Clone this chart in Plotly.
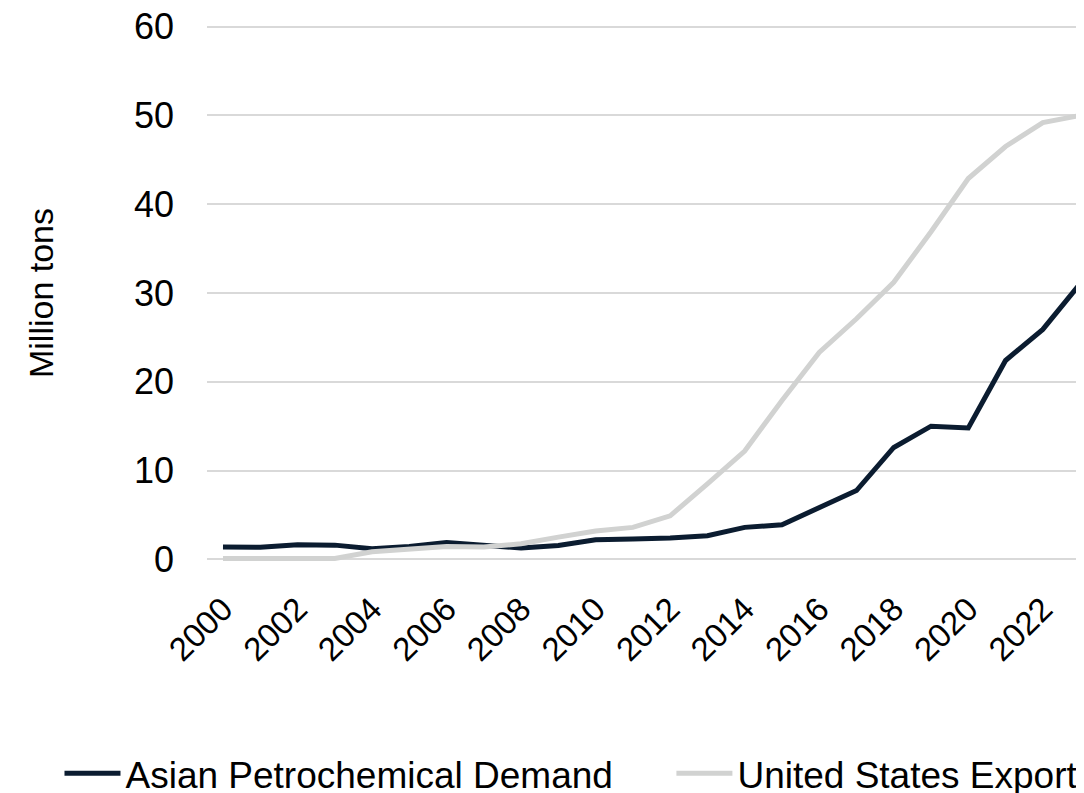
import plotly.graph_objects as go

# years on the x axis
years = list(range(2000, 2024))

# values (million tons)
asian_demand = [1.4, 1.35, 1.65, 1.6, 1.2, 1.45, 1.9, 1.55, 1.28, 1.55,
                2.2, 2.3, 2.4, 2.65, 3.6, 3.9, 5.9, 7.75, 12.6, 15.0,
                14.8, 22.4, 25.9, 31.05]
us_exports = [0.1, 0.1, 0.1, 0.1, 0.85, 1.1, 1.45, 1.4, 1.75, 2.5,
              3.2, 3.6, 4.9, 8.5, 12.2, 17.9, 23.3, 27.1, 31.2, 36.9,
              42.9, 46.5, 49.2, 50.0]

y_ticks = [0, 10, 20, 30, 40, 50, 60]
x_ticks = list(range(2000, 2023, 2))

FONT = "Liberation Sans, Arial, sans-serif"

fig = go.Figure()
fig.add_trace(go.Scatter(x=years, y=asian_demand, mode="lines",
                         name="Asian Petrochemical Demand",
                         line=dict(color="#0b1c30", width=5),
                         legend="legend"))
fig.add_trace(go.Scatter(x=years, y=us_exports, mode="lines",
                         name="United States Exports",
                         line=dict(color="#d1d2d1", width=5),
                         legend="legend2"))

# one legend per series so both sit on one row like the original
leg = dict(orientation="h", xref="container", yref="container",
           xanchor="left", yanchor="middle", font=dict(size=37),
           itemwidth=56, bgcolor="rgba(0,0,0,0)")

# the page body adds 8px, margins are set so the plot lands where it should
# y range padded a little so the 0 and 60 gridlines are still drawn
fig.update_layout(
    width=1084, height=793,
    margin=dict(l=199, r=0, t=16.3, b=239.3),
    paper_bgcolor="white", plot_bgcolor="white",
    font=dict(family=FONT, size=34, color="black"),
    showlegend=True,
    legend=dict(leg, x=0.0475, y=0.0345),
    legend2=dict(leg, x=0.612, y=0.0345),
)
fig.update_xaxes(range=[1999.571, 2023.32], tickvals=x_ticks, tickangle=-45,
                 tickfont=dict(size=33), ticklabeloverflow="allow",
                 showgrid=False, zeroline=False, showline=False,
                 ticks="", ticklabelstandoff=20, automargin=False)
fig.update_yaxes(range=[-0.3, 60.3], tickvals=y_ticks, tickfont=dict(size=36),
                 ticklabeloverflow="allow",
                 showgrid=True, gridcolor="#d9d9d9", gridwidth=1.5,
                 zeroline=False, showline=False, ticks="",
                 ticklabelstandoff=32, automargin=False,
                 title=dict(text="Million tons", standoff=70,
                            font=dict(size=34)))

fig.write_html("out.html")
